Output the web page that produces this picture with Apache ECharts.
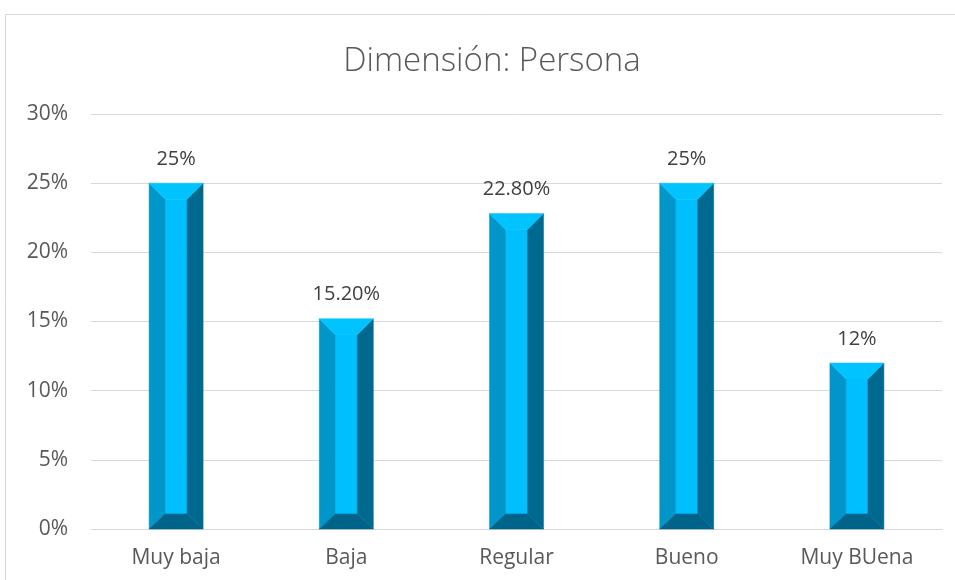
<!DOCTYPE html>
<html>
<head>
<meta charset="utf-8">
<script src="https://cdn.jsdelivr.net/npm/echarts@6/dist/echarts.min.js"></script>
<style>
  html, body { margin: 0; padding: 0; background: #ffffff; }
  #chart { width: 955px; height: 580px; }
</style>
</head>
<body>
<div id="chart"></div>
<script>
// Dimension "Persona" – share of responses per rating level
const categories = ['Muy baja', 'Baja', 'Regular', 'Bueno', 'Muy BUena'];
const values = [25, 15.2, 22.8, 25, 12];
const valueLabels = ['25%', '15.20%', '22.80%', '25%', '12%'];
const yTicks = [0, 5, 10, 15, 20, 25, 30];

const FONT = '"Open Sans", "Liberation Sans", sans-serif';
const COLORS = {
  face: '#00bfff',
  top: '#00c3ff',
  left: '#0096c9',
  right: '#00698f',
  bottom: '#00638a'
};

// Draws a bevelled column: front face plus four sloped edges
function renderBevelBar(params, api) {
  const idx = api.value(0);
  const val = api.value(1);
  const topPt = api.coord([idx, val]);
  const basePt = api.coord([idx, 0]);
  const w = 54;
  const x0 = topPt[0] - w / 2, x1 = topPt[0] + w / 2;
  const y0 = topPt[1], y1 = basePt[1];
  const b = Math.min(16, (y1 - y0) / 2);
  const bb = Math.min(15, (y1 - y0) / 2);
  const ix0 = x0 + 16, ix1 = x1 - 16;
  const iy0 = y0 + b, iy1 = y1 - bb;
  const poly = (pts, fill) => ({
    type: 'polygon',
    shape: { points: pts },
    style: { fill: fill, stroke: fill, lineWidth: 0.5 }
  });
  return {
    type: 'group',
    children: [
      poly([[ix0, iy0], [ix1, iy0], [ix1, iy1], [ix0, iy1]], COLORS.face),
      poly([[x0, y0], [ix0, iy0], [ix0, iy1], [x0, y1]], COLORS.left),
      poly([[x1, y0], [x1, y1], [ix1, iy1], [ix1, iy0]], COLORS.right),
      poly([[x0, y0], [x1, y0], [ix1, iy0], [ix0, iy0]], COLORS.top),
      poly([[x0, y1], [ix0, iy1], [ix1, iy1], [x1, y1]], COLORS.bottom),
      {
        type: 'text',
        style: {
          x: topPt[0],
          y: y0 - 24,
          text: valueLabels[idx],
          fill: '#404040',
          font: '20px ' + FONT,
          align: 'center',
          verticalAlign: 'middle'
        }
      }
    ]
  };
}

const chart = echarts.init(document.getElementById('chart'), null, { renderer: 'canvas' });
chart.setOption({
  animation: false,
  backgroundColor: '#ffffff',
  title: {
    text: 'Dimensión: Persona',
    left: 487,
    top: 40,
    textAlign: 'center',
    textStyle: {
      fontFamily: FONT,
      fontWeight: 300,
      fontSize: 33,
      color: '#595959'
    }
  },
  graphic: [
    {
      type: 'polyline',
      shape: { points: [[5.5, 580], [5.5, 14.5], [955, 14.5]] },
      style: { stroke: '#d9d9d9', lineWidth: 1, fill: null },
      silent: true
    }
  ],
  grid: { left: 91, right: 13, top: 114, bottom: 51, containLabel: false },
  xAxis: {
    type: 'category',
    data: categories,
    axisLine: { show: true, lineStyle: { color: '#d9d9d9', width: 1 } },
    axisTick: { show: false },
    axisLabel: {
      color: '#595959',
      fontFamily: FONT,
      fontSize: 21,
      margin: 19
    }
  },
  yAxis: {
    type: 'value',
    min: yTicks[0],
    max: yTicks[yTicks.length - 1],
    interval: 5,
    axisLine: { show: false },
    axisTick: { show: false },
    splitLine: { lineStyle: { color: '#d9d9d9', width: 1 } },
    axisLabel: {
      color: '#595959',
      fontFamily: FONT,
      fontSize: 21,
      margin: 23,
      formatter: v => v + '%'
    }
  },
  series: [
    {
      type: 'custom',
      renderItem: renderBevelBar,
      encode: { x: 0, y: 1 },
      data: values.map((v, i) => [i, v]),
      z: 3
    }
  ]
});
</script>
</body>
</html>
